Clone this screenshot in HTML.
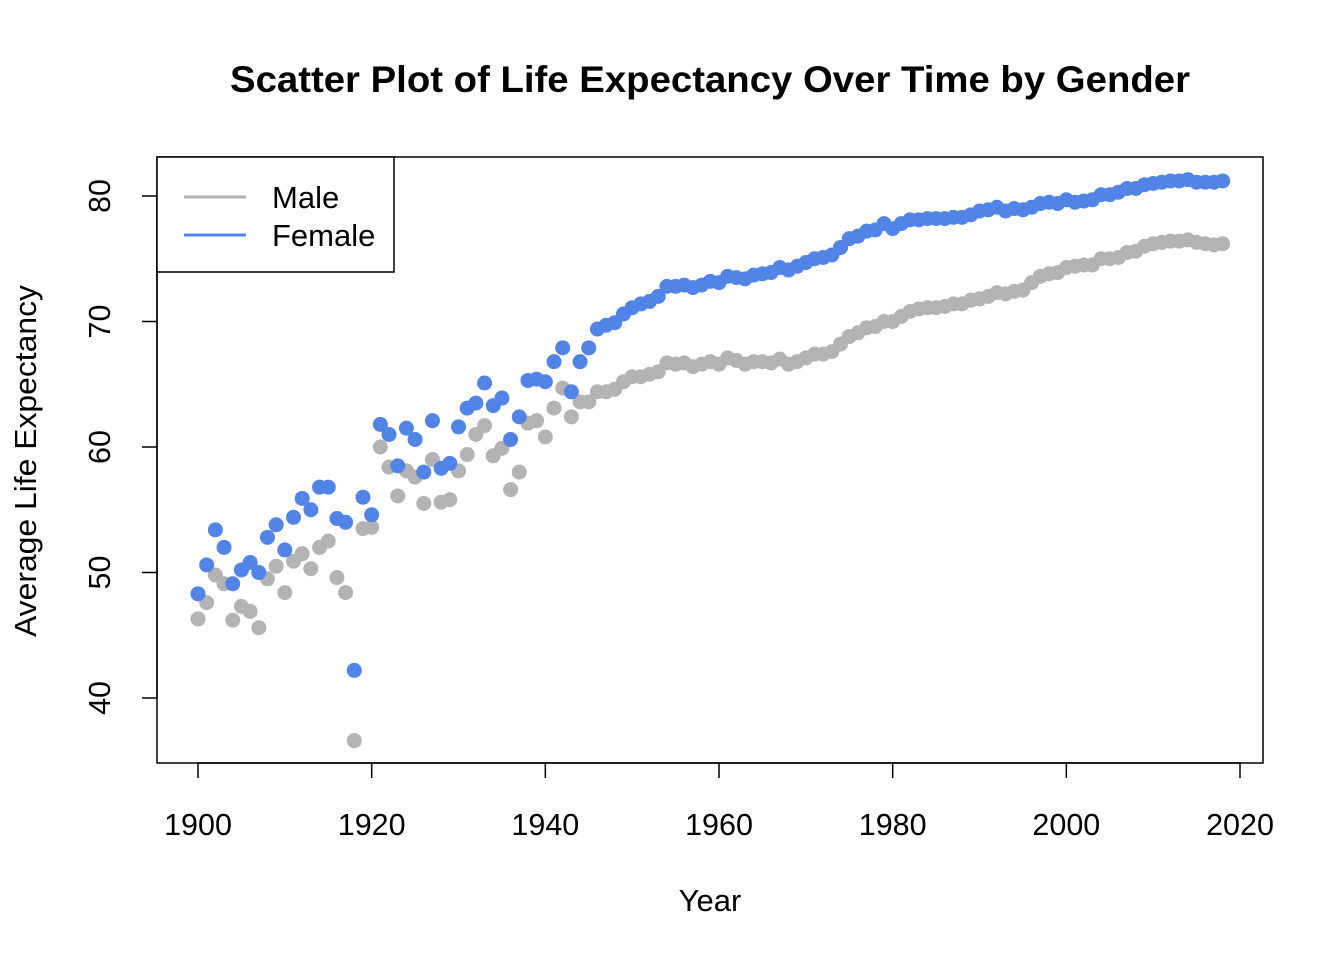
<!DOCTYPE html>
<html><head><meta charset="utf-8"><style>
html,body{margin:0;padding:0;background:#fff;}
svg text{font-family:"Liberation Sans",Arial,sans-serif;fill:#000;}
</style></head><body>
<svg id="chart" width="1344" height="960">
<text x="710" y="92" text-anchor="middle" font-size="37.5" font-weight="bold" textLength="960" lengthAdjust="spacingAndGlyphs">Scatter Plot of Life Expectancy Over Time by Gender</text>
<text x="710" y="911" text-anchor="middle" font-size="31">Year</text>
<text transform="translate(36,461) rotate(-90)" text-anchor="middle" font-size="31" textLength="352" lengthAdjust="spacingAndGlyphs">Average Life Expectancy</text>
<g id="points"></g>
<g id="axes"></g>
<rect x="157" y="157" width="1106" height="606" fill="none" stroke="#000" stroke-width="1.5"/>
<g>
<rect x="157" y="157" width="237" height="115" fill="#fff" stroke="#000" stroke-width="1.5"/>
<line x1="184" y1="197" x2="246" y2="197" stroke="#b3b3b3" stroke-width="3"/>
<text x="272" y="208" font-size="31">Male</text>
<line x1="184" y1="235" x2="246" y2="235" stroke="#5283e6" stroke-width="3"/>
<text x="272" y="246" font-size="31">Female</text>
</g>
</svg>
<script>
const startYear = 1900;
const maleValues = [46.3,47.6,49.8,49.1,46.2,47.3,46.9,45.6,49.5,50.5,48.4,50.9,51.5,50.3,52.0,52.5,49.6,48.4,36.6,53.5,53.6,60.0,58.4,56.1,58.1,57.6,55.5,59.0,55.6,55.8,58.1,59.4,61.0,61.7,59.3,59.9,56.6,58.0,61.9,62.1,60.8,63.1,64.7,62.4,63.6,63.6,64.4,64.4,64.6,65.2,65.6,65.6,65.8,66.0,66.7,66.6,66.7,66.4,66.6,66.8,66.6,67.1,66.9,66.6,66.8,66.8,66.7,67.0,66.6,66.8,67.1,67.4,67.4,67.6,68.2,68.8,69.1,69.5,69.6,70.0,70.0,70.4,70.8,71.0,71.1,71.1,71.2,71.4,71.4,71.7,71.8,72.0,72.3,72.2,72.4,72.5,73.1,73.6,73.8,73.9,74.3,74.4,74.5,74.5,75.0,75.0,75.1,75.5,75.6,76.0,76.2,76.3,76.4,76.4,76.5,76.3,76.2,76.1,76.2];
const femaleValues = [48.3,50.6,53.4,52.0,49.1,50.2,50.8,50.0,52.8,53.8,51.8,54.4,55.9,55.0,56.8,56.8,54.3,54.0,42.2,56.0,54.6,61.8,61.0,58.5,61.5,60.6,58.0,62.1,58.3,58.7,61.6,63.1,63.5,65.1,63.3,63.9,60.6,62.4,65.3,65.4,65.2,66.8,67.9,64.4,66.8,67.9,69.4,69.7,69.9,70.6,71.1,71.4,71.6,72.0,72.8,72.8,72.9,72.7,72.9,73.2,73.1,73.6,73.5,73.4,73.7,73.8,73.9,74.3,74.1,74.4,74.7,75.0,75.1,75.3,75.9,76.6,76.8,77.2,77.3,77.8,77.4,77.8,78.1,78.1,78.2,78.2,78.2,78.3,78.3,78.5,78.8,78.9,79.1,78.8,79.0,78.9,79.1,79.4,79.5,79.4,79.7,79.5,79.6,79.7,80.1,80.1,80.3,80.6,80.6,80.9,81.0,81.1,81.2,81.2,81.3,81.1,81.1,81.1,81.2];
const xTicks = [1900,1920,1940,1960,1980,2000,2020];
const yTicks = [40,50,60,70,80];

const NS = "http://www.w3.org/2000/svg";
function xScale(v){ return 198 + (v-1900)*(1240-198)/120; }
function yScale(v){ return 196 + (80-v)*(698-196)/40; }

const pts = document.getElementById('points');
function drawSeries(vals, color, name){
  vals.forEach((v,i)=>{
    const c = document.createElementNS(NS,'circle');
    c.setAttribute('cx', xScale(startYear+i));
    c.setAttribute('cy', yScale(v));
    c.setAttribute('r', 7.5);
    c.setAttribute('fill', color);
    
    
    pts.appendChild(c);
  });
}
drawSeries(maleValues, '#b3b3b3', 'male-point');
drawSeries(femaleValues, '#5283e6', 'female-point');

const ax = document.getElementById('axes');
function mk(tag, attrs){ const e=document.createElementNS(NS,tag); for(const k in attrs) e.setAttribute(k,attrs[k]); ax.appendChild(e); return e; }
mk('line',{x1:xScale(1900),x2:xScale(2020),y1:763,y2:763,stroke:'#000','stroke-width':1.5});
xTicks.forEach(t=>{
  const l = mk('line',{x1:xScale(t),x2:xScale(t),y1:763,y2:778,stroke:'#000','stroke-width':1.5});
  
  
  const tx = mk('text',{x:xScale(t),y:835,'text-anchor':'middle','font-size':30.5});
  tx.textContent = t;
  
  
});
mk('line',{x1:157,x2:157,y1:yScale(40),y2:yScale(80),stroke:'#000','stroke-width':1.5});
yTicks.forEach(t=>{
  const l = mk('line',{x1:142,x2:157,y1:yScale(t),y2:yScale(t),stroke:'#000','stroke-width':1.5});
  
  
  const tx = mk('text',{transform:`translate(110,${yScale(t)}) rotate(-90)`,'text-anchor':'middle','font-size':30.5});
  tx.textContent = t;
  
  
});
</script>
</body></html>
